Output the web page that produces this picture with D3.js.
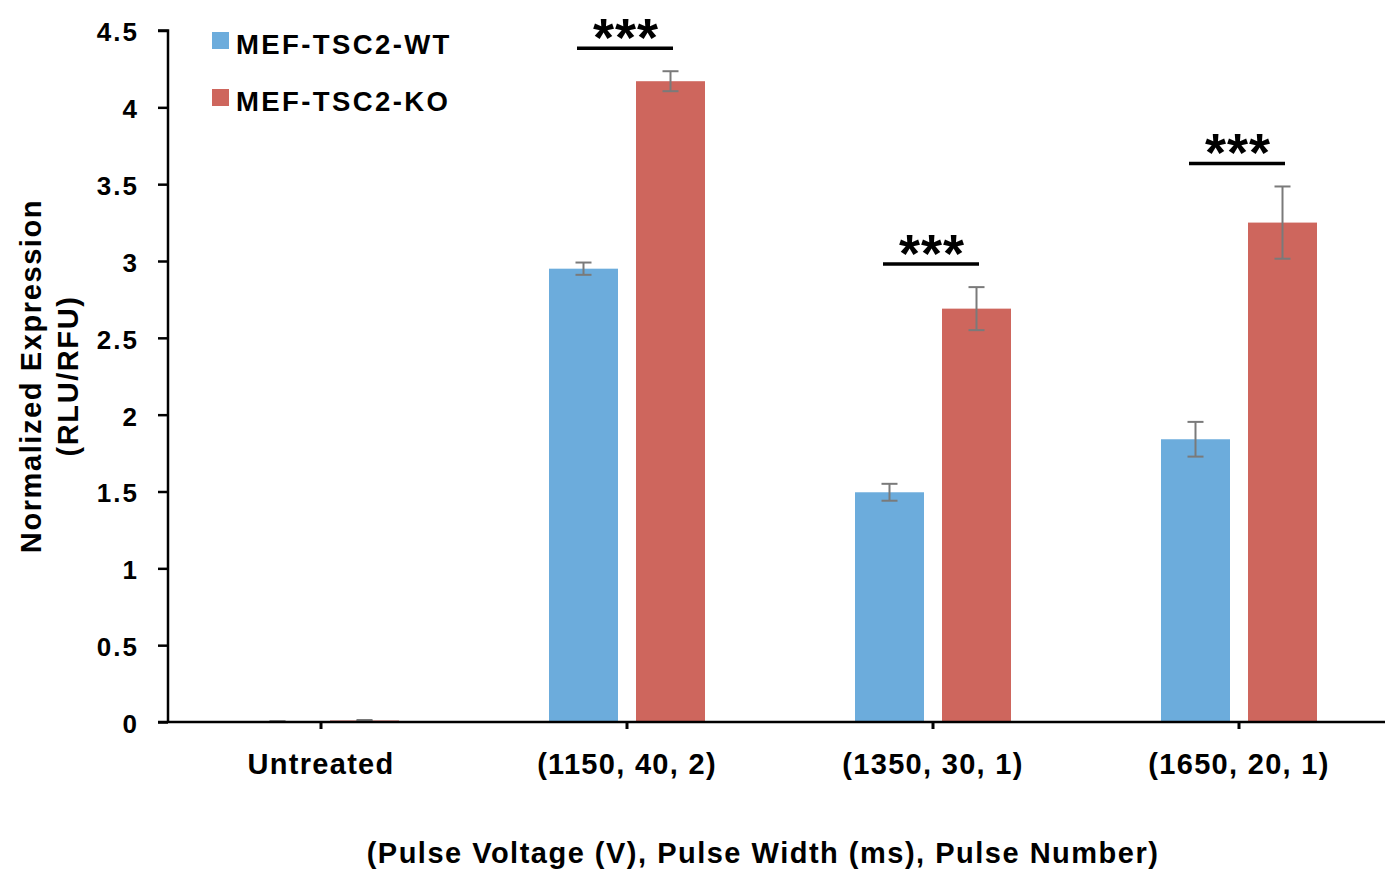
<!DOCTYPE html>
<html>
<head>
<meta charset="utf-8">
<script src="https://cdn.jsdelivr.net/npm/d3@7"></script>
<style>
  body { margin: 0; background: #fff; }
  text { font-family: "Liberation Sans", Arial, sans-serif; font-weight: bold; fill: #000; }
</style>
</head>
<body>
<div id="chart"></div>
<script>
const categories = ["Untreated", "(1150, 40, 2)", "(1350, 30, 1)", "(1650, 20, 1)"];
const series = ["MEF-TSC2-WT", "MEF-TSC2-KO"];
const wtValues = [0.003, 2.95, 1.495, 1.84];
const wtErrors = [0.002, 0.04, 0.055, 0.113];
const koValues = [0.01, 4.17, 2.69, 3.25];
const koErrors = [0.003, 0.065, 0.14, 0.235];
const significance = ["", "***", "***", "***"];
const yTicks = [0, 0.5, 1, 1.5, 2, 2.5, 3, 3.5, 4, 4.5];
const colors = ["#6cacdc", "#ce665d"];

const width = 1385, height = 874;
const plotLeft = 168, plotRight = 1392, plotTop = 30.5, plotBottom = 722;

const svg = d3.select("#chart").append("svg")
    .attr("width", width)
    .attr("height", height);

const x = d3.scaleBand().domain(categories).range([plotLeft, plotRight]).padding(0);
const x1 = d3.scaleBand().domain(series).range([-78, 78]).paddingInner(0.207);
const y = d3.scaleLinear().domain([0, 4.5]).range([plotBottom, plotTop]);

const rows = categories.map((c, i) => ({
    cat: c,
    vals: [
        {s: series[0], v: wtValues[i], e: wtErrors[i], c: colors[0]},
        {s: series[1], v: koValues[i], e: koErrors[i], c: colors[1]}
    ],
    sig: significance[i]
}));

// bars
const groups = svg.append("g").selectAll("g")
    .data(rows)
    .enter().append("g")
    .attr("transform", d => "translate(" + (x(d.cat) + x.bandwidth() / 2) + ",0)");

groups.selectAll("rect")
    .data(d => d.vals)
    .enter().append("rect")
    .attr("x", d => x1(d.s))
    .attr("width", x1.bandwidth())
    .attr("y", d => y(d.v))
    .attr("height", d => y(0) - y(d.v))
    .attr("fill", d => d.c);

// error bars
const err = groups.selectAll("g.err")
    .data(d => d.vals)
    .enter().append("g")
    .attr("class", "err")
    .attr("stroke", "#7a7a7a")
    .attr("stroke-width", 2);
err.append("line")
    .attr("x1", d => x1(d.s) + x1.bandwidth() / 2)
    .attr("x2", d => x1(d.s) + x1.bandwidth() / 2)
    .attr("y1", d => y(d.v + d.e))
    .attr("y2", d => y(d.v - d.e));
err.append("line")
    .attr("x1", d => x1(d.s) + x1.bandwidth() / 2 - 8)
    .attr("x2", d => x1(d.s) + x1.bandwidth() / 2 + 8)
    .attr("y1", d => y(d.v + d.e))
    .attr("y2", d => y(d.v + d.e));
err.append("line")
    .attr("x1", d => x1(d.s) + x1.bandwidth() / 2 - 8)
    .attr("x2", d => x1(d.s) + x1.bandwidth() / 2 + 8)
    .attr("y1", d => y(Math.max(0, d.v - d.e)))
    .attr("y2", d => y(Math.max(0, d.v - d.e)));

// significance markers
const sigY = d => y(d.vals[1].v + d.vals[1].e) - 23;
const sigG = groups.filter(d => d.sig !== "");
sigG.append("line")
    .attr("x1", -50)
    .attr("x2", 46)
    .attr("y1", sigY)
    .attr("y2", sigY)
    .attr("stroke", "#000")
    .attr("stroke-width", 3.5);
sigG.append("text")
    .attr("x", -1)
    .attr("y", d => sigY(d) + 8)
    .attr("text-anchor", "middle")
    .style("font-size", "54px")
    .style("letter-spacing", "1px")
    .text(d => d.sig);

// axes
const yAxis = svg.append("g")
    .attr("transform", "translate(" + plotLeft + ",0)")
    .call(d3.axisLeft(y).tickValues(yTicks).tickSize(10).tickPadding(19).tickFormat(d3.format("")));
yAxis.select(".domain").attr("stroke-width", 2.5).attr("d", "M-10," + plotTop + "H0V" + plotBottom);
yAxis.selectAll(".tick line").attr("stroke-width", 2.5);
yAxis.selectAll("text")
    .style("font-size", "26px")
    .style("letter-spacing", "2px")
    .attr("dy", "0.4em");

const xAxis = svg.append("g")
    .attr("transform", "translate(0," + plotBottom + ")")
    .call(d3.axisBottom(x).tickSize(7).tickPadding(24));
xAxis.select(".domain").attr("stroke-width", 2.5).attr("d", "M" + (plotLeft - 10) + ",0H" + plotRight);
xAxis.selectAll(".tick line").attr("stroke-width", 3);
xAxis.selectAll("text")
    .style("font-size", "29px")
    .style("letter-spacing", "1.3px");

// axis titles
svg.append("text")
    .attr("transform", "translate(41,376) rotate(-90)")
    .attr("text-anchor", "middle")
    .style("font-size", "29px")
    .style("letter-spacing", "1.6px")
    .text("Normalized Expression");
svg.append("text")
    .attr("transform", "translate(78,376) rotate(-90)")
    .attr("text-anchor", "middle")
    .style("font-size", "29px")
    .style("letter-spacing", "1.6px")
    .text("(RLU/RFU)");
svg.append("text")
    .attr("x", 763)
    .attr("y", 863)
    .attr("text-anchor", "middle")
    .style("font-size", "29px")
    .style("letter-spacing", "1.5px")
    .text("(Pulse Voltage (V), Pulse Width (ms), Pulse Number)");

// legend
const legend = svg.append("g").selectAll("g")
    .data(series)
    .enter().append("g")
    .attr("transform", (d, i) => "translate(212," + (32 + i * 57) + ")");
legend.append("rect")
    .attr("width", 17)
    .attr("height", 17)
    .attr("fill", (d, i) => colors[i]);
legend.append("text")
    .attr("x", 24)
    .attr("y", 22)
    .style("font-size", "27.5px")
    .style("letter-spacing", "2.4px")
    .text(d => d);
</script>
</body>
</html>
